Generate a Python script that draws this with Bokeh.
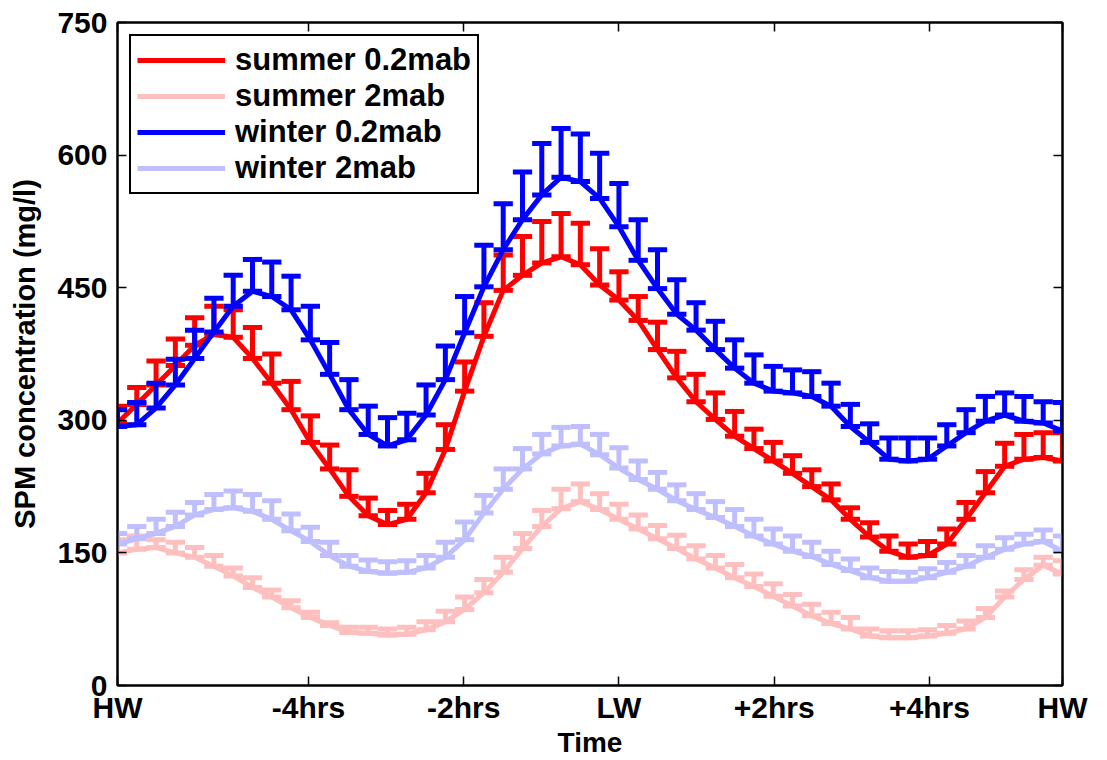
from bokeh.plotting import figure
from bokeh.models import Range1d, FixedTicker, LinearAxis, ColumnDataSource, Legend, LegendItem
from bokeh.embed import file_html
from bokeh.resources import INLINE

# ---- data (SPM concentration, mg/l) over one tidal cycle, ~15 min steps ----
time_index = list(range(50))
tick_positions = [0, 9.9, 17.95, 26, 34.05, 42.1, 49]
tick_labels = ["HW", "-4hrs", "-2hrs", "LW", "+2hrs", "+4hrs", "HW"]
y_ticks = [0, 150, 300, 450, 600, 750]

summer_02 = [297, 318, 340, 362, 385, 397, 394, 370, 342, 312,
             275, 245, 214, 192, 182, 188, 218, 267, 333, 395,
             447, 464, 478, 485, 476, 453, 436, 413, 380, 348,
             321, 301, 282, 268, 254, 240, 225, 210, 188, 168,
             152, 145, 147, 160, 188, 218, 248, 256, 258, 254]
summer_02_upper = [316, 337, 367, 392, 416, 429, 425, 405, 375, 344,
                   305, 272, 244, 212, 198, 205, 240, 295, 366, 433,
                   487, 508, 525, 534, 523, 494, 468, 440, 411, 378,
                   352, 331, 310, 290, 275, 260, 244, 228, 201, 184,
                   169, 160, 163, 177, 207, 242, 274, 284, 286, 286]

summer_2 = [150, 154, 156, 150, 145, 135, 124, 111, 100, 88,
            77, 68, 60, 59, 57, 58, 63, 72, 86, 105,
            128, 155, 180, 200, 208, 199, 188, 177, 166, 155,
            143, 133, 122, 112, 101, 90, 79, 70, 64, 56,
            54, 54, 56, 59, 64, 77, 100, 120, 136, 126]
summer_2_upper = [165, 169, 165, 162, 156, 147, 133, 122, 108, 96,
                  83, 71, 66, 66, 64, 66, 72, 84, 100, 120,
                  145, 172, 198, 222, 228, 217, 205, 193, 181, 170,
                  158, 147, 137, 126, 115, 103, 92, 83, 77, 64,
                  62, 62, 63, 68, 73, 87, 107, 131, 145, 141]

winter_02 = [293, 295, 314, 340, 370, 400, 429, 446, 440, 425,
             391, 352, 312, 284, 271, 278, 306, 346, 399, 451,
             493, 527, 555, 575, 570, 551, 519, 481, 449, 420,
             402, 380, 359, 342, 333, 331, 327, 316, 293, 275,
             256, 254, 256, 271, 286, 299, 306, 299, 297, 288]
winter_02_upper = [312, 320, 342, 369, 402, 438, 464, 482, 479, 463,
                   429, 388, 346, 316, 303, 308, 340, 384, 440, 498,
                   545, 581, 613, 630, 624, 602, 568, 527, 493, 459,
                   433, 412, 391, 374, 361, 357, 355, 342, 318, 296,
                   280, 280, 280, 295, 312, 327, 331, 327, 321, 320]

winter_2 = [160, 166, 172, 180, 193, 199, 201, 197, 188, 175,
            163, 147, 135, 129, 127, 128, 133, 145, 165, 195,
            222, 245, 262, 271, 273, 261, 246, 233, 222, 209,
            199, 190, 180, 169, 160, 152, 146, 137, 130, 122,
            118, 118, 122, 128, 135, 145, 154, 160, 163, 152]
winter_2_upper = [172, 180, 188, 196, 207, 216, 220, 216, 209, 194,
                  179, 162, 147, 142, 140, 141, 147, 162, 185, 215,
                  245, 268, 284, 292, 293, 284, 269, 254, 241, 227,
                  217, 208, 199, 188, 177, 169, 162, 152, 143, 133,
                  129, 128, 132, 139, 147, 158, 167, 171, 176, 169]

series = [
    ("summer 0.2mab", summer_02, summer_02_upper, "#ff0000"),
    ("summer 2mab", summer_2, summer_2_upper, "#ffbfbf"),
    ("winter 0.2mab", winter_02, winter_02_upper, "#0000ff"),
    ("winter 2mab", winter_2, winter_2_upper, "#bfbfff"),
]

FONT = "Liberation Sans"
LW = 5
CAP_HALF = 0.5

p = figure(width=1107, height=760, output_backend="svg", toolbar_location=None,
           x_range=Range1d(0, 49), y_range=Range1d(0, 750),
           min_border_left=117, min_border_right=45, min_border_top=22, min_border_bottom=74)
p.background_fill_color = "white"
p.border_fill_color = "white"
p.outline_line_color = "black"
p.outline_line_width = 2
p.xgrid.visible = False
p.ygrid.visible = False

items = []
for label, mean, upper, color in series:
    src = ColumnDataSource(dict(
        x=time_index, y=mean, up=upper,
        xl=[t - CAP_HALF for t in time_index], xr=[t + CAP_HALF for t in time_index]))
    p.segment(x0="x", y0="y", x1="x", y1="up", source=src, line_color=color, line_width=LW)
    p.segment(x0="xl", y0="up", x1="xr", y1="up", source=src, line_color=color, line_width=LW)
    p.segment(x0="xl", y0="y", x1="xr", y1="y", source=src, line_color=color, line_width=LW)
    r = p.line(x="x", y="y", source=src, line_color=color, line_width=LW)
    items.append(LegendItem(label=label, renderers=[r]))

# axes
xa = p.xaxis[0]
xa.ticker = FixedTicker(ticks=tick_positions)
xa.major_label_overrides = {t: l for t, l in zip(tick_positions, tick_labels)}
xa.axis_label = "Time"
ya = p.yaxis[0]
ya.ticker = FixedTicker(ticks=y_ticks)
ya.axis_label = "SPM concentration (mg/l)"

for ax in (xa, ya):
    ax.axis_line_width = 2
    ax.major_tick_in = 9
    ax.major_tick_out = 0
    ax.minor_tick_line_color = None
    ax.major_tick_line_width = 1.5
    ax.major_label_text_font = FONT
    ax.major_label_text_font_style = "bold"
    ax.major_label_text_font_size = "30px"
    ax.major_label_text_color = "black"
    ax.axis_label_text_font = FONT
    ax.axis_label_text_font_style = "bold"
    ax.axis_label_text_color = "black"
xa.axis_label_text_font_size = "28px"
ya.axis_label_text_font_size = "29px"
xa.major_label_standoff = 5
xa.axis_label_standoff = 0
ya.major_label_standoff = 10
ya.axis_label_standoff = 13

# mirrored ticks on top and right (no labels)
top_ax = LinearAxis(ticker=FixedTicker(ticks=tick_positions))
right_ax = LinearAxis(ticker=FixedTicker(ticks=y_ticks))
for ax in (top_ax, right_ax):
    ax.axis_line_width = 2
    ax.major_tick_in = 9
    ax.major_tick_out = 0
    ax.major_tick_line_width = 1.5
    ax.minor_tick_line_color = None
    ax.major_label_text_font_size = "0px"
    ax.major_label_standoff = 0
top_ax.major_label_overrides = {t: "" for t in tick_positions}
right_ax.major_label_overrides = {t: "" for t in y_ticks}
p.add_layout(top_ax, "above")
p.add_layout(right_ax, "right")

legend = Legend(items=items, location="top_left")
legend.margin = 12
legend.padding = 6
legend.spacing = 0
legend.glyph_width = 88
legend.glyph_height = 30
legend.label_standoff = 10
legend.label_text_font = FONT
legend.label_text_font_style = "bold"
legend.label_text_font_size = "31px"
legend.label_text_color = "black"
legend.border_line_color = "black"
legend.border_line_alpha = 1.0
legend.border_line_width = 2
legend.background_fill_color = "white"
legend.background_fill_alpha = 1.0
p.add_layout(legend, "center")

open("out.html", "w").write(file_html(p, INLINE))
